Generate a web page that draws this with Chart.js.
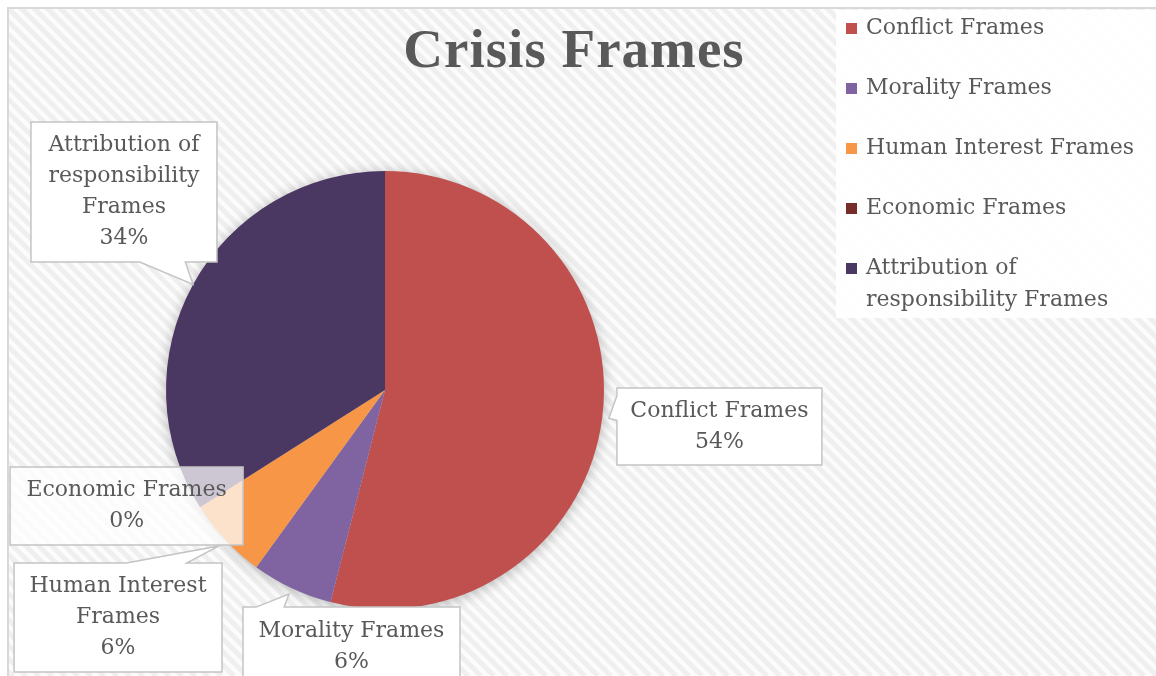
<!DOCTYPE html>
<html>
<head>
<meta charset="utf-8">
<script src="https://cdn.jsdelivr.net/npm/chart.js@4/dist/chart.umd.min.js"></script>
<style>
  html, body { margin: 0; padding: 0; background: #ffffff; }
  #wrap { width: 1156px; height: 676px; }
</style>
</head>
<body>
<div id="wrap"><canvas id="c" width="1156" height="676"></canvas></div>
<script>
// ---- data ----
const chartTitle = 'Crisis Frames';
const categories = ['Conflict Frames', 'Morality Frames', 'Human Interest Frames', 'Economic Frames', 'Attribution of responsibility Frames'];
const shares = [54, 6, 6, 0, 34];
const sliceColors = ['#C0504D', '#8064A2', '#F79646', '#772C2A', '#4B3862'];
const calloutText = [['Conflict Frames'], ['Morality Frames'], ['Human Interest', 'Frames'], ['Economic Frames'], ['Attribution of', 'responsibility', 'Frames']];
const legendText = [['Conflict Frames'], ['Morality Frames'], ['Human Interest Frames'], ['Economic Frames'], ['Attribution of', 'responsibility Frames']];

// ---- layout (positions relative to pie centre, in radius units) ----
const calloutLayout = [
  { dx: 1.527, dy: 0.167, w: 205, h: 77, side: 'left', base: [0.10, 0.42], tipR: 1.03, alpha: 1 },
  { dx: -0.153, dy: 1.174, w: 217, h: 80, side: 'top', base: [0.06, 0.19], tipR: 1.03, alpha: 1 },
  { dx: -1.219, dy: 1.039, w: 208, h: 109, side: 'top', base: [0.54, 0.83], tipR: 1.04, alpha: 1 },
  { dx: -1.180, dy: 0.530, w: 233, h: 78, side: null, base: null, tipR: 1.0, alpha: 0.72 },
  { dx: -1.192, dy: -0.904, w: 186, h: 140, side: 'bottom', base: [0.585, 0.83], tipR: 1.0, alpha: 1 }
];
const textColor = '#595959';
const bodyFont = '22px "DejaVu Serif"';
const lineH = 31;

function calloutPath(ctx, x0, y0, x1, y1, tip, side, base) {
  ctx.beginPath();
  ctx.moveTo(x0, y0);
  if (side === 'top') {
    const a = x0 + (x1 - x0) * base[0], b = x0 + (x1 - x0) * base[1];
    ctx.lineTo(a, y0); ctx.lineTo(tip.x, tip.y); ctx.lineTo(b, y0);
  }
  ctx.lineTo(x1, y0);
  if (side === 'right') {
    const a = y0 + (y1 - y0) * base[0], b = y0 + (y1 - y0) * base[1];
    ctx.lineTo(x1, a); ctx.lineTo(tip.x, tip.y); ctx.lineTo(x1, b);
  }
  ctx.lineTo(x1, y1);
  if (side === 'bottom') {
    const a = x0 + (x1 - x0) * base[0], b = x0 + (x1 - x0) * base[1];
    ctx.lineTo(b, y1); ctx.lineTo(tip.x, tip.y); ctx.lineTo(a, y1);
  }
  ctx.lineTo(x0, y1);
  if (side === 'left') {
    const a = y0 + (y1 - y0) * base[0], b = y0 + (y1 - y0) * base[1];
    ctx.lineTo(x0, b); ctx.lineTo(tip.x, tip.y); ctx.lineTo(x0, a);
  }
  ctx.closePath();
}

const decor = {
  id: 'decor',
  beforeDraw(chart) {
    const ctx = chart.ctx, W = chart.width, H = chart.height;
    ctx.save();
    ctx.fillStyle = '#ffffff';
    ctx.fillRect(0, 0, W, H);
    ctx.beginPath();
    ctx.rect(9, 9, W - 9, H - 9);
    ctx.clip();
    ctx.fillStyle = '#fcfcfc';
    ctx.fillRect(9, 9, W, H);
    ctx.strokeStyle = '#efefef';
    ctx.lineWidth = 5;
    for (let k = -H; k < W + H; k += 13) {
      ctx.beginPath();
      ctx.moveTo(k, 0);
      ctx.lineTo(k + H, H);
      ctx.stroke();
    }
    ctx.restore();
    ctx.save();
    ctx.strokeStyle = '#d9d9d9';
    ctx.lineWidth = 2;
    ctx.beginPath();
    ctx.moveTo(8, H); ctx.lineTo(8, 8); ctx.lineTo(W, 8);
    ctx.stroke();
    // legend panel
    ctx.fillStyle = 'rgba(255,255,255,0.92)';
    ctx.fillRect(836, 10, W - 836, 308);
    ctx.restore();
  },
  beforeDatasetsDraw(chart) {
    const arc = chart.getDatasetMeta(0).data[0];
    const { x, y, outerRadius } = arc.getProps(['x', 'y', 'outerRadius'], true);
    const ctx = chart.ctx;
    ctx.save();
    ctx.shadowColor = 'rgba(0,0,0,0.3)';
    ctx.shadowBlur = 14;
    ctx.shadowOffsetY = 2;
    ctx.fillStyle = '#cccccc';
    ctx.beginPath();
    ctx.arc(x, y, outerRadius - 1, 0, Math.PI * 2);
    ctx.fill();
    ctx.restore();
  },
  afterDatasetsDraw(chart) {
    const ctx = chart.ctx;
    const meta = chart.getDatasetMeta(0);
    const values = chart.data.datasets[0].data;
    const total = values.reduce((a, b) => a + b, 0);
    const order = [4, 0, 1, 2, 3];
    order.forEach(i => {
      const el = meta.data[i];
      const p = el.getProps(['x', 'y', 'outerRadius', 'startAngle', 'endAngle'], true);
      const R = p.outerRadius;
      const L = calloutLayout[i];
      const mid = (p.startAngle + p.endAngle) / 2;
      const tip = { x: p.x + Math.cos(mid) * R * L.tipR, y: p.y + Math.sin(mid) * R * L.tipR };
      const cx = p.x + L.dx * R, cy = p.y + L.dy * R;
      const x0 = cx - L.w / 2, y0 = cy - L.h / 2, x1 = cx + L.w / 2, y1 = cy + L.h / 2;
      ctx.save();
      calloutPath(ctx, x0, y0, x1, y1, tip, L.side, L.base);
      ctx.fillStyle = 'rgba(255,255,255,' + L.alpha + ')';
      ctx.fill();
      ctx.strokeStyle = '#c4c4c4';
      ctx.lineWidth = 1.5;
      ctx.stroke();
      const lines = calloutText[i].concat([Math.round(values[i] / total * 100) + '%']);
      ctx.fillStyle = textColor;
      ctx.font = bodyFont;
      ctx.textAlign = 'center';
      ctx.textBaseline = 'middle';
      const top = cy - (lines.length - 1) * lineH / 2;
      lines.forEach((t, k) => ctx.fillText(t, cx, top + k * lineH));
      ctx.restore();
    });
    // title
    ctx.save();
    ctx.fillStyle = textColor;
    ctx.font = 'bold 55px "Liberation Serif"';
    if ('letterSpacing' in ctx) ctx.letterSpacing = '1px';
    ctx.textAlign = 'center';
    ctx.textBaseline = 'alphabetic';
    ctx.fillText(chartTitle, 574, 67);
    ctx.restore();
    // legend
    ctx.save();
    ctx.font = bodyFont;
    ctx.textAlign = 'left';
    ctx.textBaseline = 'middle';
    const colors = chart.data.datasets[0].backgroundColor;
    legendText.forEach((lines, i) => {
      const y = 28 + i * 60;
      ctx.fillStyle = colors[i];
      ctx.fillRect(846, y - 5, 11, 11);
      ctx.fillStyle = textColor;
      lines.forEach((t, k) => ctx.fillText(t, 866, y + k * 32));
    });
    ctx.restore();
  }
};

new Chart(document.getElementById('c'), {
  type: 'pie',
  data: {
    labels: categories,
    datasets: [{
      data: shares,
      backgroundColor: sliceColors,
      borderWidth: 0
    }]
  },
  options: {
    responsive: false,
    animation: false,
    layout: { padding: { top: 171, bottom: 67, left: 166, right: 552 } },
    plugins: {
      legend: { display: false },
      tooltip: { enabled: false },
      title: { display: false }
    }
  },
  plugins: [decor]
});
</script>
</body>
</html>
